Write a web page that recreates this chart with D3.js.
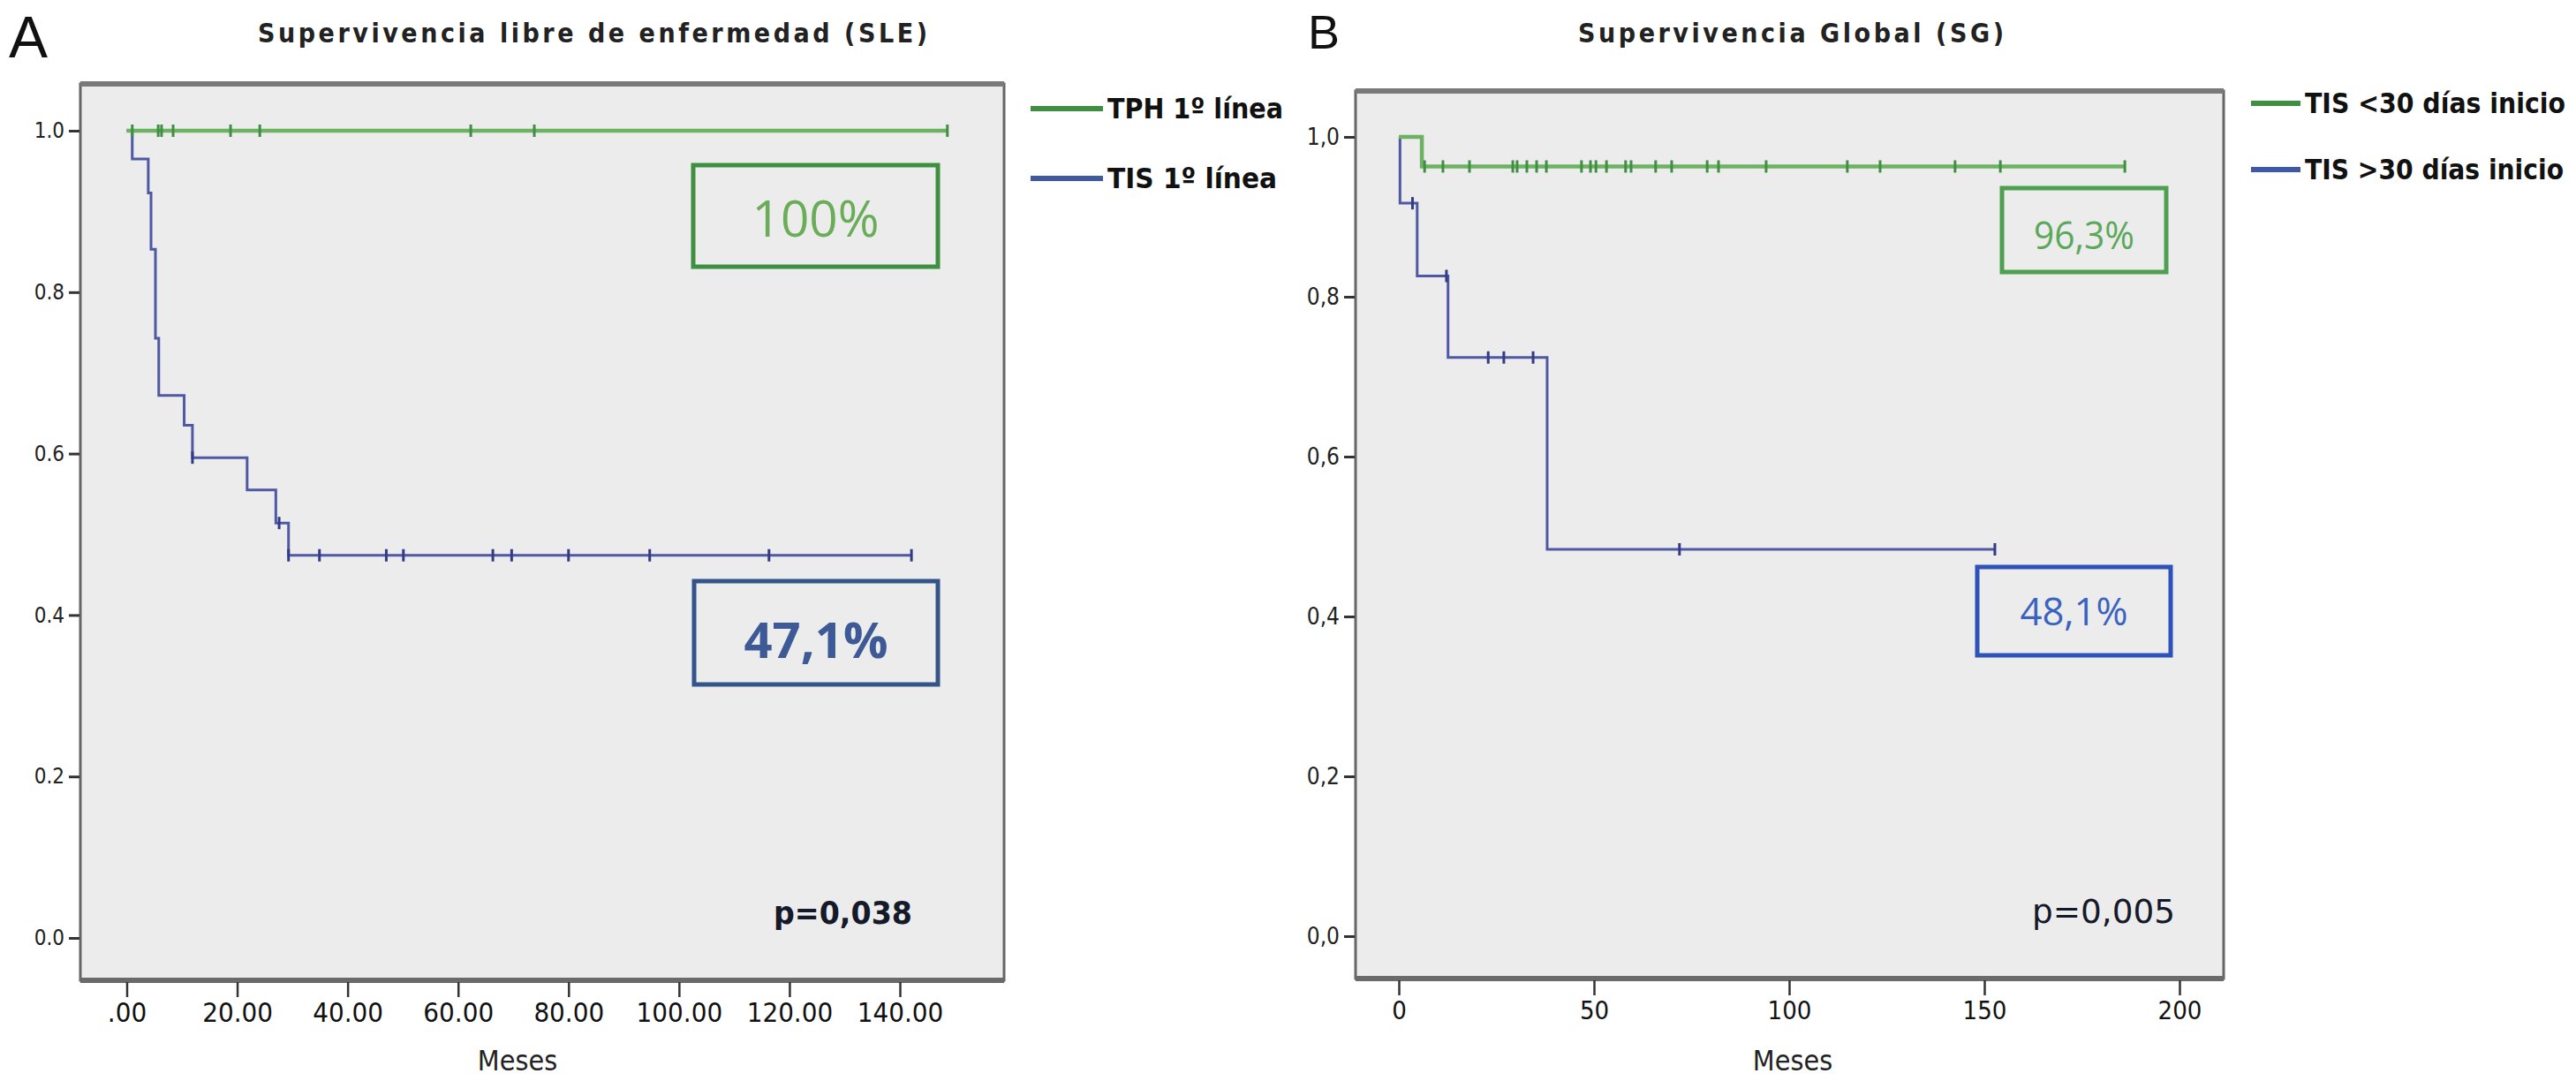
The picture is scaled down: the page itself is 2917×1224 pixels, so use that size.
<!DOCTYPE html>
<meta charset="utf-8">
<head>
  <title>Supervivencia libre de enfermedad y global</title>
</head>

<style>
body {
  margin: 0;
  background: #fff;
}
text {
  font-family: "Liberation Sans Narrow", "DejaVu Sans Condensed", "Arial Narrow", sans-serif;
  fill: #111;
}
.pct {
  font-family: "Open Sans", "Noto Sans", sans-serif;
}
.panel-letter {
  font-family: "Liberation Sans", Arial, sans-serif;
}
</style>

<body>
  <svg id="chart" width="2917" height="1224"></svg>

  <script src="https://cdnjs.cloudflare.com/ajax/libs/d3/7.8.5/d3.min.js"></script>

  <script>
  // ---- Panel A: Supervivencia libre de enfermedad (SLE) ----
  var sleTicksX = [0, 20, 40, 60, 80, 100, 120, 140];
  var sleTickLabelsX = ['.00', '20.00', '40.00', '60.00', '80.00', '100.00', '120.00', '140.00'];
  var sleTicksY = [0, 0.2, 0.4, 0.6, 0.8, 1.0];
  var sleTickLabelsY = ['0.0', '0.2', '0.4', '0.6', '0.8', '1.0'];

  var tphTimes = [0, 148.6];
  var tphSurv = [1.0, 1.0];
  var tphCensor = [1.0, 5.7, 6.3, 8.4, 18.8, 24.1, 62.3, 73.8, 148.6];

  var tisTimes = [0, 1.0, 3.9, 4.4, 5.2, 5.8, 10.4, 11.9, 21.8, 27.0, 29.3, 142.1];
  var tisSurv = [1.0, 0.965, 0.923, 0.853, 0.743, 0.672, 0.635, 0.595, 0.555, 0.514, 0.474, 0.474];
  var tisCensor = [11.9, 27.6, 29.3, 34.9, 47.0, 50.1, 66.3, 69.7, 80.0, 94.7, 116.3, 142.1];

  // ---- Panel B: Supervivencia Global (SG) ----
  var sgTicksX = [0, 50, 100, 150, 200];
  var sgTickLabelsX = ['0', '50', '100', '150', '200'];
  var sgTicksY = [0, 0.2, 0.4, 0.6, 0.8, 1.0];
  var sgTickLabelsY = ['0,0', '0,2', '0,4', '0,6', '0,8', '1,0'];

  var earlyTimes = [0, 5.9, 186];
  var earlySurv = [1.0, 0.963, 0.963];
  var earlyCensor = [6.6, 11.3, 18.1, 29.2, 30.3, 32.8, 35.3, 37.8, 46.8, 49.1, 50.5, 53.2,
    58.1, 59.5, 65.8, 69.9, 79.0, 81.9, 94.1, 114.9, 123.3, 142.5, 154.1, 186];

  var lateTimes = [0, 0.3, 4.7, 12.6, 38.0, 152.7];
  var lateSurv = [1.0, 0.917, 0.826, 0.724, 0.484, 0.484];
  var lateCensor = [3.5, 12.2, 22.9, 26.9, 34.4, 71.9, 152.7];

  var green = '#6cb262';
  var greenDark = '#3f8f42';
  var blue = '#4f58a2';
  var blueDark = '#343b86';

  var panels = [
    {
      letter: 'A', letterX: 10, letterY: 65, letterSize: 66,
      title: 'Supervivencia libre de enfermedad (SLE)', titleX: 292, titleW: 758,
      frame: [91, 95, 1137, 1110],
      xDom: [0, 140], xRange: [143.5, 1019],
      yRange: [1062, 148],
      ticksX: sleTicksX, labelsX: sleTickLabelsX, xFont: 31,
      ticksY: sleTicksY, labelsY: sleTickLabelsY, yFont: 24,
      series: [
        { times: tisTimes, surv: tisSurv, censor: tisCensor, color: blue, mark: blueDark, width: 3 },
        { times: tphTimes, surv: tphSurv, censor: tphCensor, color: green, mark: greenDark, width: 4.5 }
      ],
      legend: [
        { label: 'TPH 1º línea', color: '#3f8f42', y: 123, w: 199 },
        { label: 'TIS 1º línea', color: '#3d5aa0', y: 202, w: 192 }
      ],
      legendX: 1167, legendTextX: 1254,
      boxes: [
        { label: '100%', box: [785, 187, 1062, 302], stroke: '#3f8f42', fill: '#6aac58',
          size: 56, w: 144, weight: 400, ty: 268 },
        { label: '47,1%', box: [786, 658, 1062, 775], stroke: '#34558a', fill: '#3d5a96',
          size: 56, w: 163, weight: 700, ty: 745 }
      ],
      pText: 'p=0,038', pX: 876, pY: 1046, pW: 157, pWeight: 700, pSize: 36,
      mesesX: 586
    },
    {
      letter: 'B', letterX: 1481, letterY: 55, letterSize: 54,
      title: 'Supervivencia Global (SG)', titleX: 1787, titleW: 482,
      frame: [1535, 103, 2518, 1108],
      xDom: [0, 200], xRange: [1584, 2468],
      yRange: [1060, 155],
      ticksX: sgTicksX, labelsX: sgTickLabelsX, xFont: 29,
      ticksY: sgTicksY, labelsY: sgTickLabelsY, yFont: 26,
      series: [
        { times: lateTimes, surv: lateSurv, censor: lateCensor, color: blue, mark: blueDark, width: 3 },
        { times: earlyTimes, surv: earlySurv, censor: earlyCensor, color: green, mark: greenDark, width: 4.5 }
      ],
      legend: [
        { label: 'TIS <30 días  inicio', color: '#3f8f42', y: 117, w: 295 },
        { label: 'TIS >30 días inicio', color: '#3d58a8', y: 192, w: 293 }
      ],
      legendX: 2549, legendTextX: 2610,
      boxes: [
        { label: '96,3%', box: [2267, 213, 2453, 308], stroke: '#4f9f50', fill: '#5aa85a',
          size: 44, w: 114, weight: 400, ty: 282 },
        { label: '48,1%', box: [2239, 642, 2458, 742], stroke: '#2d52b8', fill: '#3a62c0',
          size: 44, w: 122, weight: 400, ty: 708 }
      ],
      pText: 'p=0,005', pX: 2301, pY: 1045, pW: 162, pWeight: 400, pSize: 38,
      mesesX: 2030
    }
  ];

  var svg = d3.select('#chart');

  function survivalAt(times, surv, t) {
    var i = d3.bisectRight(times, t) - 1;
    return surv[Math.max(0, i)];
  }

  function drawPanel(p) {
    var g = svg.append('g').classed('panel', true);
    var f = p.frame;

    var x = d3.scaleLinear().domain(p.xDom).range(p.xRange);
    var y = d3.scaleLinear().domain([0, 1]).range(p.yRange);

    // panel letter and title
    g.append('text')
      .attr('class', 'panel-letter')
      .attr('x', p.letterX)
      .attr('y', p.letterY)
      .style('font-size', p.letterSize + 'px')
      .text(p.letter);

    g.append('text')
      .attr('x', p.titleX)
      .attr('y', 48)
      .attr('textLength', p.titleW)
      .attr('lengthAdjust', 'spacing')
      .style('font-size', '30px')
      .style('font-weight', 'bold')
      .style('fill', '#222')
      .text(p.title);

    // plot frame
    g.append('rect')
      .attr('x', f[0])
      .attr('y', f[1])
      .attr('width', f[2] - f[0])
      .attr('height', f[3] - f[1])
      .style('fill', '#ececec')
      .style('stroke', '#666')
      .style('stroke-width', 3);

    g.append('line')
      .attr('x1', f[0]).attr('x2', f[2])
      .attr('y1', f[1]).attr('y2', f[1])
      .style('stroke', '#7a7a7a')
      .style('stroke-width', 6);

    g.append('line')
      .attr('x1', f[0]).attr('x2', f[2])
      .attr('y1', f[3]).attr('y2', f[3])
      .style('stroke', '#6a6a6a')
      .style('stroke-width', 6);

    // axes
    var xAxis = d3.axisBottom(x)
      .tickValues(p.ticksX)
      .tickFormat(function(d, i) { return p.labelsX[i]; })
      .tickSize(17)
      .tickPadding(6);

    var gx = g.append('g')
      .attr('transform', 'translate(0,' + (f[3] + 2) + ')')
      .call(xAxis);
    gx.select('.domain').remove();
    gx.selectAll('line').style('stroke', '#333').style('stroke-width', 2.5);
    gx.selectAll('text')
      .style('font-size', p.xFont + 'px')
      .style('fill', '#111');
    gx.attr('font-family', null).attr('font-size', null);

    var yAxis = d3.axisLeft(y)
      .tickValues(p.ticksY)
      .tickFormat(function(d, i) { return p.labelsY[i]; })
      .tickSize(12)
      .tickPadding(5);

    var gy = g.append('g')
      .attr('transform', 'translate(' + (f[0] - 1) + ',0)')
      .call(yAxis);
    gy.select('.domain').remove();
    gy.selectAll('line').style('stroke', '#333').style('stroke-width', 3);
    gy.selectAll('text')
      .style('font-size', p.yFont + 'px')
      .style('fill', '#222');
    gy.attr('font-family', null).attr('font-size', null);

    // survival curves
    var line = d3.line()
      .x(function(d) { return x(d[0]); })
      .y(function(d) { return y(d[1]); })
      .curve(d3.curveStepAfter);

    p.series.forEach(function(s) {
      var pts = s.times.map(function(t, i) { return [t, s.surv[i]]; });

      g.append('path')
        .datum(pts)
        .attr('d', line)
        .style('fill', 'none')
        .style('stroke', s.color)
        .style('stroke-width', s.width)
        .style('stroke-linejoin', 'miter');

      g.selectAll(null)
        .data(s.censor)
        .enter()
        .append('line')
        .attr('x1', function(d) { return x(d); })
        .attr('x2', function(d) { return x(d); })
        .attr('y1', function(d) { return y(survivalAt(s.times, s.surv, d)) - 7; })
        .attr('y2', function(d) { return y(survivalAt(s.times, s.surv, d)) + 7; })
        .style('stroke', s.mark)
        .style('stroke-width', 3);
    });

    // percentage boxes
    p.boxes.forEach(function(b) {
      g.append('rect')
        .attr('x', b.box[0])
        .attr('y', b.box[1])
        .attr('width', b.box[2] - b.box[0])
        .attr('height', b.box[3] - b.box[1])
        .style('fill', 'none')
        .style('stroke', b.stroke)
        .style('stroke-width', 5);

      g.append('text')
        .attr('class', 'pct')
        .attr('x', (b.box[0] + b.box[2]) / 2 - b.w / 2)
        .attr('y', b.ty)
        .attr('textLength', b.w)
        .attr('lengthAdjust', 'spacingAndGlyphs')
        .style('font-size', b.size + 'px')
        .style('font-weight', b.weight)
        .style('fill', b.fill)
        .text(b.label);
    });

    // p value
    g.append('text')
      .attr('x', p.pX)
      .attr('y', p.pY)
      .attr('textLength', p.pW)
      .attr('lengthAdjust', 'spacingAndGlyphs')
      .style('font-size', p.pSize + 'px')
      .style('font-weight', p.pWeight)
      .style('fill', '#151a2a')
      .text(p.pText);

    // legend
    var lg = g.selectAll('g.legend')
      .data(p.legend)
      .enter()
      .append('g')
      .classed('legend', true)
      .attr('transform', function(d) { return 'translate(0,' + d.y + ')'; });

    lg.append('line')
      .attr('x1', p.legendX)
      .attr('x2', p.legendTextX - 5)
      .style('stroke', function(d) { return d.color; })
      .style('stroke-width', 6);

    lg.append('text')
      .attr('x', p.legendTextX)
      .attr('y', 11)
      .attr('textLength', function(d) { return d.w; })
      .attr('lengthAdjust', 'spacingAndGlyphs')
      .style('font-size', '32px')
      .style('font-weight', 'bold')
      .text(function(d) { return d.label; });

    // x axis title
    g.append('text')
      .attr('x', p.mesesX)
      .attr('y', 1212)
      .attr('text-anchor', 'middle')
      .style('font-size', '32px')
      .style('fill', '#222')
      .text('Meses');
  }

  panels.forEach(drawPanel);
  </script>
</body>
</html>
